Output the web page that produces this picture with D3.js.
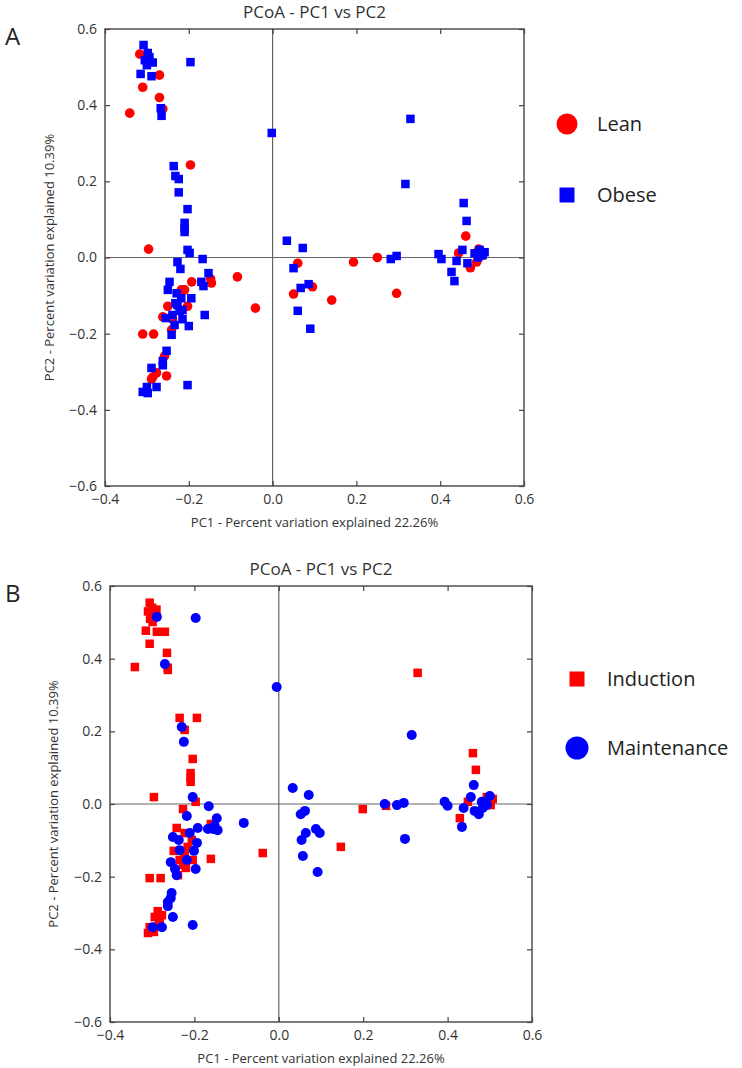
<!DOCTYPE html>
<html>
<head>
<meta charset="utf-8">
<script src="https://cdn.jsdelivr.net/npm/d3@7"></script>
<style>
  html, body { margin: 0; padding: 0; background: #fff; }
  svg { display: block; font-family: "Open Sans", "DejaVu Sans", sans-serif; }
</style>
</head>
<body>
<svg id="chart" width="742" height="1068"></svg>
<script>
// ---------- data (PC1, PC2) ----------
const xTickValues = [-0.4, -0.2, 0.0, 0.2, 0.4, 0.6];
const yTickValues = [-0.6, -0.4, -0.2, 0.0, 0.2, 0.4, 0.6];
const titleText = "PCoA - PC1 vs PC2";
const xLabelText = "PC1 - Percent variation explained 22.26%";
const yLabelText = "PC2 - Percent variation explained 10.39%";

// Panel A
const leanPoints = [
  [-0.317,0.534],[-0.27,0.479],[-0.31,0.447],[-0.27,0.42],[-0.341,0.379],[-0.262,0.39],[-0.196,0.243],[-0.296,0.022],
  [0.06,-0.015],[0.095,-0.077],[0.05,-0.096],[0.141,-0.112],[0.193,-0.012],[0.25,0.0],[0.296,-0.094],
  [0.461,0.056],[0.444,0.012],[0.472,-0.027],[0.487,-0.012],[0.492,0.022],[0.5,0.005],
  [-0.148,-0.056],[-0.193,-0.064],[-0.146,-0.067],[-0.084,-0.051],[-0.041,-0.133],[-0.218,-0.085],[-0.21,-0.085],
  [-0.25,-0.128],[-0.203,-0.128],[-0.262,-0.156],[-0.239,-0.162],[-0.241,-0.19],[-0.31,-0.201],[-0.284,-0.201],
  [-0.258,-0.259],[-0.277,-0.303],[-0.286,-0.314],[-0.253,-0.311],[-0.289,-0.319]
];
const obesePoints = [
  [-0.308,0.558],[-0.298,0.537],[-0.294,0.526],[-0.305,0.518],[-0.286,0.512],[-0.30,0.505],[-0.315,0.482],[-0.289,0.476],
  [-0.267,0.392],[-0.265,0.372],[-0.196,0.513],[-0.002,0.327],
  [-0.236,0.24],[-0.232,0.214],[-0.224,0.206],[-0.224,0.171],[-0.203,0.127],[-0.21,0.091],[-0.21,0.077],[-0.21,0.067],
  [-0.203,0.02],[-0.198,0.012],
  [0.034,0.044],[0.072,0.025],[0.329,0.364],[0.317,0.193],[0.456,0.143],[0.463,0.096],[0.453,0.02],
  [0.05,-0.028],[0.067,-0.08],[0.086,-0.07],[0.06,-0.14],[0.09,-0.187],[0.282,-0.004],[0.296,0.004],[0.396,0.009],
  [0.403,-0.004],[0.439,-0.009],[0.427,-0.038],[0.434,-0.062],[0.465,-0.015],[0.482,0.011],[0.494,0.02],[0.506,0.014],
  [0.501,0.006],[0.49,0.0],
  [-0.167,-0.004],[-0.227,-0.012],[-0.22,-0.03],[-0.153,-0.041],[-0.17,-0.064],[-0.165,-0.075],[-0.246,-0.064],
  [-0.25,-0.085],[-0.229,-0.094],[-0.194,-0.107],[-0.218,-0.107],[-0.227,-0.125],[-0.215,-0.138],[-0.255,-0.159],
  [-0.239,-0.151],[-0.215,-0.162],[-0.162,-0.151],[-0.234,-0.177],[-0.2,-0.18],[-0.241,-0.203],[-0.253,-0.245],
  [-0.262,-0.272],[-0.262,-0.283],[-0.289,-0.29],[-0.203,-0.335],[-0.277,-0.34],[-0.31,-0.353],[-0.298,-0.356],
  [-0.3,-0.34],[-0.232,-0.12],[-0.222,-0.14]
];

// Panel B
const inductionPoints = [
  [-0.306,0.554],[-0.31,0.53],[-0.30,0.54],[-0.295,0.52],[-0.305,0.51],[-0.29,0.535],[-0.299,0.501],[-0.315,0.477],
  [-0.289,0.474],[-0.27,0.474],[-0.306,0.441],[-0.265,0.416],[-0.341,0.377],[-0.263,0.375],[-0.263,0.369],
  [-0.235,0.237],[-0.194,0.237],[-0.223,0.204],[-0.204,0.124],[-0.209,0.085],[-0.209,0.072],[-0.209,0.061],[-0.296,0.019],
  [0.329,0.361],[0.46,0.14],[0.467,0.094],[0.147,-0.118],[0.199,-0.014],[0.254,-0.005],[0.429,-0.039],[0.448,0.006],
  [0.493,0.019],[0.502,-0.003],[0.507,0.014],
  [-0.197,0.006],[-0.227,-0.014],[-0.161,-0.055],[-0.038,-0.135],[-0.242,-0.066],[-0.223,-0.08],[-0.206,-0.099],
  [-0.216,-0.118],[-0.249,-0.129],[-0.223,-0.14],[-0.235,-0.154],[-0.204,-0.154],[-0.227,-0.168],[-0.22,-0.176],
  [-0.161,-0.151],[-0.239,-0.196],[-0.306,-0.204],[-0.28,-0.204],[-0.287,-0.295],[-0.277,-0.306],[-0.282,-0.317],
  [-0.294,-0.311],[-0.306,-0.339],[-0.31,-0.355],[-0.296,-0.352],[-0.284,-0.328]
];
const maintenancePoints = [
  [-0.289,0.515],[-0.197,0.512],[-0.27,0.385],[-0.005,0.322],[-0.23,0.212],[-0.225,0.171],[0.033,0.044],[-0.204,0.019],
  [0.071,0.025],[0.315,0.19],[0.462,0.052],
  [0.052,-0.028],[0.062,-0.019],[0.064,-0.08],[0.088,-0.069],[0.097,-0.08],[0.054,-0.099],[0.057,-0.143],[0.092,-0.187],
  [0.251,0.0],[0.28,-0.003],[0.296,0.003],[0.299,-0.096],[0.393,0.006],[0.4,-0.005],[0.434,-0.063],[0.438,-0.011],
  [0.455,0.019],[0.464,-0.019],[0.474,-0.028],[0.483,-0.011],[0.481,0.006],[0.5,0.022],[0.493,-0.003],
  [-0.218,-0.033],[-0.166,-0.006],[-0.147,-0.039],[-0.156,-0.069],[-0.145,-0.072],[-0.168,-0.069],[-0.192,-0.066],
  [-0.083,-0.052],[-0.211,-0.08],[-0.251,-0.091],[-0.237,-0.099],[-0.194,-0.107],[-0.235,-0.127],[-0.201,-0.129],
  [-0.218,-0.154],[-0.256,-0.16],[-0.246,-0.179],[-0.197,-0.179],[-0.242,-0.196],[-0.254,-0.245],[-0.256,-0.259],
  [-0.263,-0.27],[-0.263,-0.281],[-0.251,-0.311],[-0.204,-0.333],[-0.277,-0.339],[-0.299,-0.339],[-0.152,-0.06]
];

// ---------- drawing ----------
const svg = d3.select("#chart");
const TEXT = "#333";
const AXIS = "#444";

function drawPanel(cfg) {
  const g = svg.append("g");
  const x = d3.scaleLinear().domain([-0.4, 0.6]).range([cfg.left, cfg.right]);
  const y = d3.scaleLinear().domain([-0.6, 0.6]).range([cfg.bottom, cfg.top]);

  // zero lines
  g.append("line").attr("x1", x(0)).attr("x2", x(0)).attr("y1", cfg.top).attr("y2", cfg.bottom)
    .attr("stroke", "#666").attr("stroke-width", 1.2);
  g.append("line").attr("x1", cfg.left).attr("x2", cfg.right).attr("y1", y(0)).attr("y2", y(0))
    .attr("stroke", "#666").attr("stroke-width", 1.2);

  // points: series 1 then series 2
  cfg.series.forEach(s => {
    const sg = g.append("g");
    if (s.shape === "circle") {
      sg.selectAll("circle").data(s.data).join("circle")
        .attr("cx", d => x(d[0])).attr("cy", d => y(d[1]))
        .attr("r", s.size).attr("fill", s.color);
    } else {
      sg.selectAll("rect").data(s.data).join("rect")
        .attr("x", d => x(d[0]) - s.size / 2).attr("y", d => y(d[1]) - s.size / 2)
        .attr("width", s.size).attr("height", s.size).attr("fill", s.color);
    }
  });

  // axes with inward ticks
  const fmt = d3.format(".1f");
  const ax = (gen, tx, ty, labels) => {
    const a = g.append("g").attr("transform", `translate(${tx},${ty})`)
      .call(gen.tickSizeInner(-5).tickSizeOuter(0).tickPadding(8).tickFormat(labels ? fmt : () => ""));
    a.select(".domain").remove();
    a.selectAll(".tick line").attr("stroke", AXIS).attr("stroke-width", 1.2);
    a.selectAll(".tick text").attr("fill", TEXT).style("font-size", "14px")
      .style("font-family", "'Open Sans', sans-serif");
    return a;
  };
  ax(d3.axisBottom(x).tickValues(xTickValues), 0, cfg.bottom, true);
  ax(d3.axisTop(x).tickValues(xTickValues), 0, cfg.top, false);
  ax(d3.axisLeft(y).tickValues(yTickValues), cfg.left, 0, true);
  ax(d3.axisRight(y).tickValues(yTickValues), cfg.right, 0, false);

  // frame
  g.append("rect").attr("x", cfg.left).attr("y", cfg.top)
    .attr("width", cfg.right - cfg.left).attr("height", cfg.bottom - cfg.top)
    .attr("fill", "none").attr("stroke", AXIS).attr("stroke-width", 1.4);

  // title and labels
  g.append("text").attr("x", (cfg.left + cfg.right) / 2).attr("y", cfg.top - 11)
    .attr("text-anchor", "middle").attr("fill", TEXT).style("font-size", "17px").text(titleText);
  g.append("text").attr("x", (cfg.left + cfg.right) / 2).attr("y", cfg.bottom + 41)
    .attr("text-anchor", "middle").attr("fill", TEXT).style("font-size", "13px").text(xLabelText);
  g.append("text")
    .attr("transform", `translate(${cfg.yLabelX},${(cfg.top + cfg.bottom) / 2}) rotate(-90)`)
    .attr("text-anchor", "middle").attr("fill", TEXT).style("font-size", "13px").text(yLabelText);

  // panel letter
  g.append("text").attr("x", 5).attr("y", cfg.top + 16).attr("fill", "#222")
    .style("font-size", "24px").text(cfg.letter);

  // legend
  cfg.legend.forEach((l, i) => {
    const ly = cfg.legendY + i * cfg.legendGap;
    if (l.shape === "circle") {
      g.append("circle").attr("cx", cfg.legendX).attr("cy", ly).attr("r", l.size).attr("fill", l.color);
    } else {
      g.append("rect").attr("x", cfg.legendX - l.size / 2).attr("y", ly - l.size / 2)
        .attr("width", l.size).attr("height", l.size).attr("fill", l.color);
    }
    g.append("text").attr("x", cfg.legendX + 30).attr("y", ly).attr("dy", "0.35em")
      .attr("fill", "#222").style("font-size", "20px").text(l.label);
  });
}

drawPanel({
  letter: "A", left: 105, right: 524, top: 29, bottom: 486, yLabelX: 54,
  series: [
    { data: leanPoints, shape: "circle", color: "#ff0000", size: 4.8 },
    { data: obesePoints, shape: "square", color: "#0000ff", size: 8.5 }
  ],
  legendX: 567, legendY: 124, legendGap: 71,
  legend: [
    { label: "Lean", shape: "circle", color: "#ff0000", size: 10.5 },
    { label: "Obese", shape: "square", color: "#0000ff", size: 15 }
  ]
});

drawPanel({
  letter: "B", left: 110, right: 532, top: 586, bottom: 1022, yLabelX: 58,
  series: [
    { data: inductionPoints, shape: "square", color: "#ff0000", size: 8.5 },
    { data: maintenancePoints, shape: "circle", color: "#0000ff", size: 5 }
  ],
  legendX: 577, legendY: 679, legendGap: 69,
  legend: [
    { label: "Induction", shape: "square", color: "#ff0000", size: 15 },
    { label: "Maintenance", shape: "circle", color: "#0000ff", size: 11.5 }
  ]
});
</script>
</body>
</html>
